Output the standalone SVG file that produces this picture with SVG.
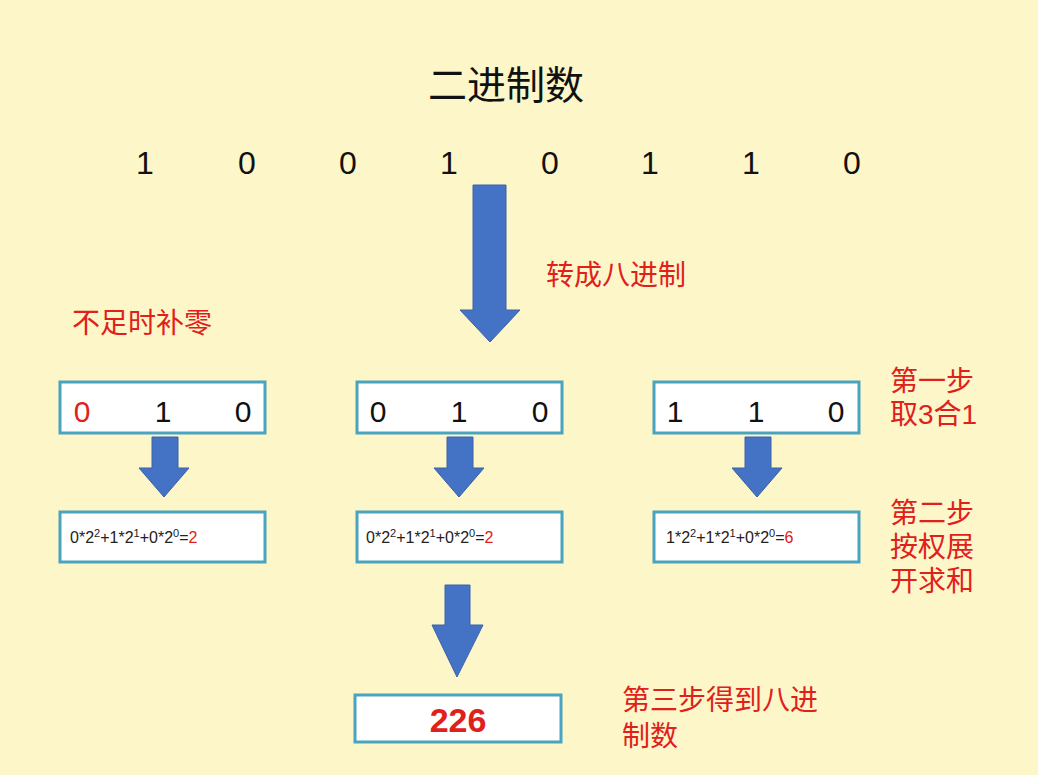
<svg xmlns="http://www.w3.org/2000/svg" width="1038" height="775" viewBox="0 0 1038 775">
<style>
text{font-family:"Liberation Sans","Noto Sans CJK SC",sans-serif}
.b{fill:#fff;stroke:#4aa3bf;stroke-width:3}
.d{font-size:30px;text-anchor:middle;fill:#111}
.f{font-size:16px;fill:#222}
.r{fill:#e0201b}
.l{font-size:28px;fill:#e0201b}
.a{fill:#4472c4;stroke:#3a62a8;stroke-width:1}
</style>
<rect width="1038" height="775" fill="#fdf6c8"/>
<text x="506" y="99" font-size="39" text-anchor="middle" fill="#111">二进制数</text>
<g font-size="32" text-anchor="middle" fill="#111">
<text x="145" y="174">1</text><text x="247" y="174">0</text><text x="348" y="174">0</text><text x="449" y="174">1</text><text x="550" y="174">0</text><text x="650" y="174">1</text><text x="751" y="174">1</text><text x="852" y="174">0</text>
</g>
<g id="connectors">
<polygon class="a" points="473,185 506,185 506,310 520,310 490,342 460,310 473,310"/>
<polygon class="a" points="152,437 178,437 178,468 189,468 164,497 139,468 152,468"/>
<polygon class="a" points="447,437 473,437 473,468 484,468 459,497 434,468 447,468"/>
<polygon class="a" points="745,437 771,437 771,468 782,468 757,497 732,468 745,468"/>
<polygon class="a" points="445,585 470,585 470,625 483,625 457,677 432,625 445,625"/>
</g>
<text class="l" x="546" y="285">转成八进制</text>
<text class="l" x="72" y="333">不足时补零</text>
<g id="n1"><rect class="b" x="60" y="382" width="205" height="51"/><text class="d r" x="82" y="422">0</text><text class="d" x="163" y="422">1</text><text class="d" x="243" y="422">0</text></g>
<g id="n2"><rect class="b" x="357" y="382" width="205" height="51"/><text class="d" x="378" y="422">0</text><text class="d" x="459" y="422">1</text><text class="d" x="540" y="422">0</text></g>
<g id="n3"><rect class="b" x="654" y="382" width="205" height="51"/><text class="d" x="675" y="422">1</text><text class="d" x="756" y="422">1</text><text class="d" x="836" y="422">0</text></g>
<g id="n4"><rect class="b" x="60" y="512" width="205" height="50"/><text class="f" x="70" y="543">0*2<tspan dy="-6" font-size="11">2</tspan><tspan dy="6">+1*2</tspan><tspan dy="-6" font-size="11">1</tspan><tspan dy="6">+0*2</tspan><tspan dy="-6" font-size="11">0</tspan><tspan dy="6">=</tspan><tspan class="r">2</tspan></text></g>
<g id="n5"><rect class="b" x="357" y="512" width="205" height="50"/><text class="f" x="366" y="543">0*2<tspan dy="-6" font-size="11">2</tspan><tspan dy="6">+1*2</tspan><tspan dy="-6" font-size="11">1</tspan><tspan dy="6">+0*2</tspan><tspan dy="-6" font-size="11">0</tspan><tspan dy="6">=</tspan><tspan class="r">2</tspan></text></g>
<g id="n6"><rect class="b" x="654" y="512" width="205" height="50"/><text class="f" x="666" y="543">1*2<tspan dy="-6" font-size="11">2</tspan><tspan dy="6">+1*2</tspan><tspan dy="-6" font-size="11">1</tspan><tspan dy="6">+0*2</tspan><tspan dy="-6" font-size="11">0</tspan><tspan dy="6">=</tspan><tspan class="r">6</tspan></text></g>
<g id="n7"><rect class="b" x="355" y="695" width="206" height="47"/><text x="458" y="732" font-size="34" font-weight="bold" text-anchor="middle" class="r">226</text></g>
<text class="l" x="890" y="391">第一步</text>
<text class="l" x="890" y="424">取3合1</text>
<text class="l" x="890" y="523">第二步</text>
<text class="l" x="890" y="557">按权展</text>
<text class="l" x="890" y="591">开求和</text>
<text class="l" x="622" y="710">第三步得到八进</text>
<text class="l" x="622" y="746">制数</text>
</svg>
